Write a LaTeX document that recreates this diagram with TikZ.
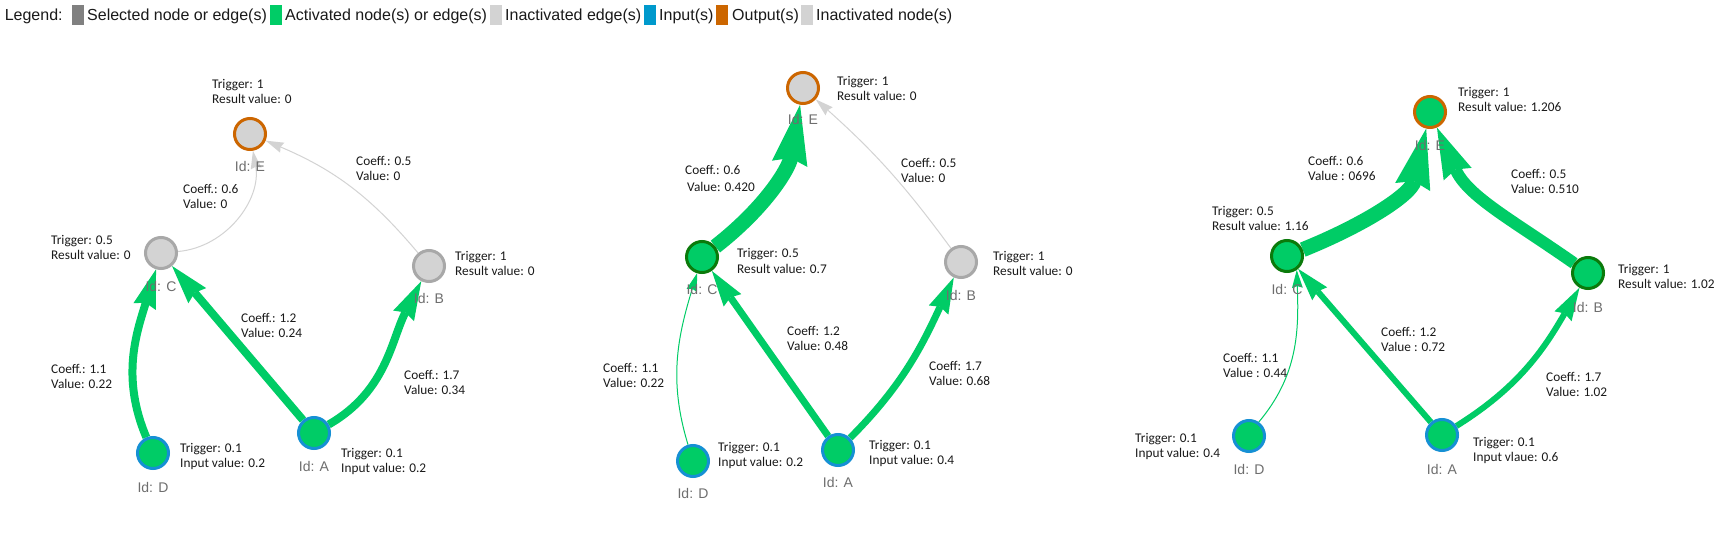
\documentclass[tikz,border=0pt]{standalone}
\usepackage{fontspec}
\setmainfont{Carlito}
\newfontfamily\arialf{Liberation Sans}
\usetikzlibrary{arrows.meta}
\pgfdeclarelayer{bg}
\pgfsetlayers{bg,main}
\definecolor{actgreen}{HTML}{00CC66}
\definecolor{dkgreen}{HTML}{0B7A0B}
\definecolor{inblue}{HTML}{1690D4}
\definecolor{legblue}{HTML}{0099CC}
\definecolor{outorange}{HTML}{CC6600}
\definecolor{inactgray}{HTML}{D3D3D3}
\definecolor{inactborder}{HTML}{A8A8A8}
\definecolor{selgray}{HTML}{808080}
\definecolor{idgray}{HTML}{6E6E6E}
\definecolor{txt}{HTML}{1A1A1A}
\newcommand\twoline[5]{%
  \node[lbl] (#1-1) at (#2,{-(#3+4)}) {#4};
  \node[lbl] (#1-2) at (#2,{-(#3+19)}) {#5};}
\newcommand\idlabel[4]{\node[idl] (#1) at (#2,{-(#3+5)}) {Id: #4};}
\tikzset{
  vnode/.style={circle, minimum size=31pt, line width=3pt, inner sep=0pt, outer sep=1.5pt},
  inactn/.style={vnode, fill=inactgray, draw=inactborder},
  outinact/.style={vnode, fill=inactgray, draw=outorange},
  outact/.style={vnode, fill=actgreen, draw=outorange},
  actn/.style={vnode, fill=actgreen, draw=dkgreen},
  inn/.style={vnode, fill=actgreen, draw=inblue},
  lbl/.style={anchor=base west, inner sep=0pt, font=\fontsize{13.3}{15}\selectfont, text=txt},
  idl/.style={anchor=base, inner sep=0pt, font=\arialf\fontsize{14}{16}\selectfont, text=idgray},
  legtxt/.style={anchor=base west, inner sep=0pt, font=\arialf\fontsize{16}{18}\selectfont, text=txt},
  sq/.style={minimum width=12pt, minimum height=20.5pt, inner sep=0pt, outer sep=0pt},
  ge/.style n args={4}{draw=actgreen, line width=#1pt, -{Stealth[length=#2pt, width=#3pt, inset=#4pt, line width=0pt]}},
  gE1/.style={ge={1}{18}{10.8}{1.8}},
  gE6/.style={ge={6}{33}{19.8}{3.3}},
  gE7/.style={ge={7}{36}{21.6}{3.6}},
  gE8/.style={ge={8}{39}{23.4}{3.9}},
  gE12/.style={ge={12}{51}{30.6}{5.1}},
  gE15/.style={ge={15}{60}{36}{6}},
  grayE/.style={draw=inactgray, line width=1pt, -{Stealth[length=18pt, width=10.8pt, inset=1.8pt, line width=0pt]}},
}
\begin{document}
\begin{tikzpicture}[x=1pt,y=1pt]
\useasboundingbox (0,0) rectangle (1736,-537);
% ---------- legend ----------
\node[legtxt] (leg0) at (4.6,-20.5) {Legend:};
\node[sq, fill=selgray] (sq1) at (78,-15) {};
\node[legtxt] (leg1) at (87,-20.5) {Selected node or edge(s)};
\node[sq, fill=actgreen] (sq2) at (276,-15) {};
\node[legtxt] (leg2) at (285,-20.5) {Activated node(s) or edge(s)};
\node[sq, fill=inactgray] (sq3) at (496,-15) {};
\node[legtxt] (leg3) at (505,-20.5) {Inactivated edge(s)};
\node[sq, fill=legblue] (sq4) at (650,-15) {};
\node[legtxt] (leg4) at (659,-20.5) {Input(s)};
\node[sq, fill=outorange] (sq5) at (722,-15) {};
\node[legtxt] (leg5) at (732,-20.5) {Output(s)};
\node[sq, fill=inactgray] (sq6) at (806.5,-15) {};
\node[legtxt] (leg6) at (816,-20.5) {Inactivated node(s)};
% ---------- panel 1 ----------
\node[outinact] (p1E) at (250,-134) {};
\node[inactn] (p1C) at (161,-253) {};
\node[inactn] (p1B) at (429,-266) {};
\node[inn] (p1D) at (153,-453) {};
\node[inn] (p1A) at (314,-433) {};
% ---------- panel 2 ----------
\node[outinact] (p2E) at (803,-88) {};
\node[actn] (p2C) at (702,-257) {};
\node[inactn] (p2B) at (961,-262) {};
\node[inn] (p2D) at (693,-461) {};
\node[inn] (p2A) at (838,-450) {};
% ---------- panel 3 ----------
\node[outact] (p3E) at (1430,-112) {};
\node[actn] (p3C) at (1287,-256) {};
\node[actn] (p3B) at (1588,-273) {};
\node[inn] (p3D) at (1249,-436) {};
\node[inn] (p3A) at (1442,-435) {};
% ---------- edges ----------
\begin{pgfonlayer}{bg}
\fill[white] (0,0) rectangle (1736,-537);
\draw[grayE] (p1C) to[out=5,in=-80] (p1E);
\draw[grayE] (p1B) to[out=130,in=-23] (p1E);
\draw[gE8] (p1D) to[out=113,in=-107] (p1C);
\draw[gE8] (p1A) -- (p1C);
\draw[gE8] (p1A) to[out=30,in=-117] (p1B);
\draw[gE15] (p2C) to[out=38,in=-100] (p2E);
\draw[grayE] (p2B) to[bend right=6] (p2E);
\draw[gE1] (p2D) to[out=107,in=-107] (p2C);
\draw[gE7] (p2A) -- (p2C);
\draw[gE7] (p2A) to[out=45,in=-115] (p2B);
\draw[gE15] (p3C) to[out=22,in=-103] (p3E);
\draw[gE12] (p3B) to[out=145,in=-66] (p3E);
\draw[gE1] (p3D.55) to[out=50,in=-88] (p3C.-55);
\draw[gE6] (p3A) -- (p3C);
\draw[gE6] (p3A) to[out=32,in=-120] (p3B);
\end{pgfonlayer}
% ---------- panel 1 labels ----------
\twoline{p1Ei}{212}{85}{Trigger: 1}{Result value: 0}
\twoline{p1Ci}{51}{240}{Trigger: 0.5}{Result value: 0}
\twoline{p1Bi}{455}{257}{Trigger: 1}{Result value: 0}
\twoline{p1Di}{180}{448}{Trigger: 0.1}{Input value: 0.2}
\twoline{p1Ai}{341}{453}{Trigger: 0.1}{Input value: 0.2}
\idlabel{p1Eid}{250}{167}{E}
\idlabel{p1Cid}{161}{286}{C}
\idlabel{p1Bid}{429}{298}{B}
\idlabel{p1Did}{153}{487}{D}
\idlabel{p1Aid}{314}{466}{A}
\twoline{p1CE}{183}{190}{Coeff.: 0.6}{Value: 0}
\twoline{p1BE}{356}{162}{Coeff.: 0.5}{Value: 0}
\twoline{p1DC}{51}{369}{Coeff.: 1.1}{Value: 0.22}
\twoline{p1AC}{241}{318}{Coeff.: 1.2}{Value: 0.24}
\twoline{p1AB}{404}{375}{Coeff.: 1.7}{Value: 0.34}
% ---------- panel 2 labels ----------
\twoline{p2Ei}{837}{82}{Trigger: 1}{Result value: 0}
\twoline{p2Ci}{737}{254}{Trigger: 0.5}{Result value: 0.7}
\twoline{p2Bi}{993}{257}{Trigger: 1}{Result value: 0}
\twoline{p2Di}{718}{447}{Trigger: 0.1}{Input value: 0.2}
\twoline{p2Ai}{869}{445}{Trigger: 0.1}{Input value: 0.4}
\idlabel{p2Eid}{803}{120}{E}
\idlabel{p2Cid}{702}{289}{C}
\idlabel{p2Bid}{961}{295}{B}
\idlabel{p2Did}{693}{493}{D}
\idlabel{p2Aid}{838}{482}{A}
\node[lbl] (p2CE-1) at (685,-175) {Coeff.: 0.6};
\node[lbl] (p2CE-2) at (687,-192) {Value: 0.420};
\twoline{p2BE}{901}{164}{Coeff.: 0.5}{Value: 0}
\twoline{p2DC}{603}{368}{Coeff.: 1.1}{Value: 0.22}
\twoline{p2AC}{787}{331}{Coeff: 1.2}{Value: 0.48}
\twoline{p2AB}{929}{366}{Coeff: 1.7}{Value: 0.68}
% ---------- panel 3 labels ----------
\twoline{p3Ei}{1458}{93}{Trigger: 1}{Result value: 1.206}
\twoline{p3Ci}{1212}{212}{Trigger: 0.5}{Result value: 1.16}
\twoline{p3Bi}{1618}{269}{Trigger: 1}{Result value: 1.02}
\twoline{p3Di}{1135}{438}{Trigger: 0.1}{Input value: 0.4}
\twoline{p3Ai}{1473}{442}{Trigger: 0.1}{Input vlaue: 0.6}
\idlabel{p3Eid}{1430}{146}{E}
\idlabel{p3Cid}{1287}{289}{C}
\idlabel{p3Bid}{1588}{307}{B}
\idlabel{p3Did}{1249}{469}{D}
\idlabel{p3Aid}{1442}{469}{A}
\twoline{p3CE}{1308}{162}{Coeff.: 0.6}{Value : 0696}
\twoline{p3BE}{1511}{175}{Coeff.: 0.5}{Value: 0.510}
\twoline{p3DC}{1223}{358}{Coeff.: 1.1}{Value : 0.44}
\twoline{p3AC}{1381}{332}{Coeff.: 1.2}{Value : 0.72}
\twoline{p3AB}{1546}{377}{Coeff.: 1.7}{Value: 1.02}
\end{tikzpicture}
\end{document}
